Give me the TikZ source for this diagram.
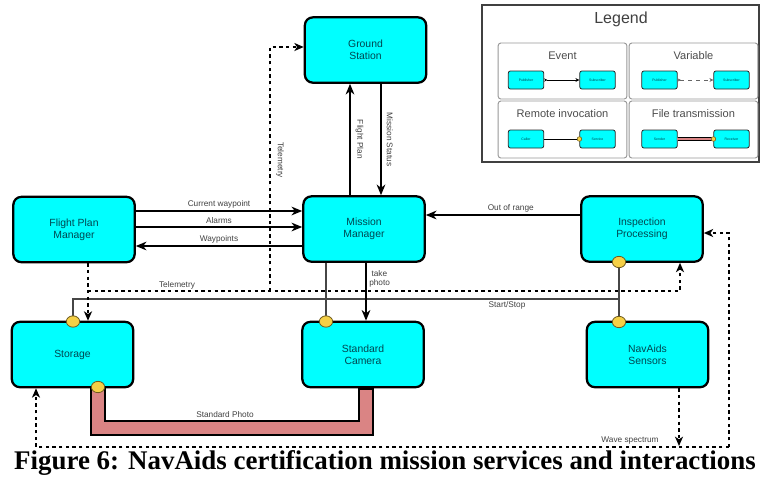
\documentclass[tikz,border=0pt]{standalone}
\usepackage{fontspec}
\setmainfont{Liberation Serif}
\setsansfont{Liberation Sans}
\usetikzlibrary{arrows.meta,backgrounds,shapes.geometric}

\definecolor{boxfill}{RGB}{0,255,255}
\definecolor{boxtext}{RGB}{0,70,80}
\definecolor{lolly}{RGB}{245,208,70}
\definecolor{lollyedge}{RGB}{110,90,30}
\definecolor{pipefill}{RGB}{218,132,132}
\definecolor{wirecol}{RGB}{70,70,70}
\definecolor{framecol}{RGB}{150,150,150}

\begin{document}
\begin{tikzpicture}[x=0.75pt,y=-0.75pt,
  svc/.style={draw=black, line width=1.7pt, fill=boxfill, rounded corners=6pt,
    minimum width=91pt, minimum height=49pt, align=center, inner sep=0pt,
    font=\sffamily\fontsize{7.8}{9.2}\selectfont, text=boxtext},
  conn/.style={line width=1.5pt, -{Stealth[length=8pt,width=6.5pt,inset=2.5pt]}},
  tele/.style={line width=1.5pt, dash pattern=on 2.5pt off 2.5pt},
  teletip/.style={tele, -{Stealth[length=7pt,width=6pt,inset=2pt]}},
  wire/.style={draw=wirecol, line width=1.4pt},
  lolli/.style={ellipse, draw=lollyedge, line width=0.6pt, fill=lolly,
    minimum width=10pt, minimum height=8.5pt, inner sep=0pt},
  lbl/.style={font=\sffamily\fontsize{6.2}{7}\selectfont, text=black!75, inner sep=1.5pt},
  lsvc/.style={draw=black!85, line width=0.6pt, fill=boxfill, rounded corners=1.5pt,
    minimum width=26.5pt, minimum height=13.5pt, inner sep=0pt,
    font=\sffamily\fontsize{2.6}{3}\selectfont, text=boxtext},
  lpanel/.style={draw=framecol, line width=0.7pt, rounded corners=2pt,
    minimum width=96.5pt, minimum height=42pt, inner sep=0pt},
  ltitle/.style={font=\sffamily\fontsize{8.3}{10}\selectfont, text=black!70},
  ldot/.style={circle, draw=lollyedge, line width=0.4pt, fill=lolly, minimum size=3.5pt, inner sep=0pt}
]
\useasboundingbox (0,0) rectangle (763,480);

% ---- services ----
\node[svc] (gs)   at (365.5,50)  {Ground\\Station};
\node[svc] (mm)   at (364,229)   {Mission\\Manager};
\node[svc] (fpm)  at (74,229.5)  {Flight Plan\\Manager};
\node[svc] (ip)   at (642,229)   {Inspection\\Processing};
\node[svc] (stor) at (72.5,354.5) {Storage};
\node[svc] (cam)  at (363,354.5) {Standard\\Camera};
\node[svc] (nav)  at (647.5,354.5) {NavAids\\Sensors};

% ---- file transmission pipe (behind the boxes) ----
\begin{scope}[on background layer]
  \draw[line width=12pt, line join=miter] (98,384) -- (98,428) -- (366,428) -- (cam.south -| 366,0);
  \draw[line width=9pt, pipefill, line join=miter] (98,384) -- (98,428) -- (366,428) -- ([yshift=-1pt]cam.south -| 366,0);
\end{scope}
\node[lbl] at (225,415) {Standard Photo};

% ---- events between Flight Plan Manager and Mission Manager ----
\draw[conn] (fpm.east |- 0,211) -- (mm.west |- 0,211) node[lbl, midway, above] {Current waypoint};
\draw[conn] (fpm.east |- 0,227) -- (mm.west |- 0,227) node[lbl, midway, above] {Alarms};
\draw[conn] (mm.west |- 0,246) -- (fpm.east |- 0,246) node[lbl, midway, above] {Waypoints};

% ---- Ground Station links ----
\draw[conn] (mm.north -| 350,0) -- (gs.south -| 350,0)
  node[lbl, midway, rotate=-90, anchor=south, yshift=2pt] {Flight Plan};
\draw[conn] (gs.south -| 381,0) -- (mm.north -| 381,0)
  node[lbl, midway, rotate=-90, anchor=south, yshift=2pt] {Mission Status};

% ---- Inspection Processing -> Mission Manager ----
\draw[conn] (ip.west |- 0,215) -- (mm.east |- 0,215) node[lbl, pos=0.45, above] {Out of range};

% ---- take photo ----
\draw[conn] (mm.south -| 366,0) -- (cam.north -| 366,0);
\node[lbl, align=left, anchor=north west] at (367,268) {\ take\\photo};

% ---- telemetry (variable) ----
\coordinate (tA) at (88,291);
\coordinate (tB) at (680,291);
\coordinate (tC) at (270,291);
\coordinate (tD) at (270,47);
\draw[teletip] (fpm.south -| 88,0) -- (stor.north -| 88,0);
\draw[teletip] (tA) -- (tB) -- (ip.south -| 680,0);
\draw[teletip] (tC) -- (tD) -- (gs.west |- tD);
\node[lbl] at (177,285) {Telemetry};
\node[lbl, rotate=-90] at (280,160) {Telemetry};

% ---- Start/Stop (remote invocation) ----
\node[lolli] (ipl)   at (619,262) {};
\node[lolli] (navl)  at (619,322) {};
\node[lolli] (storl) at (73,321.5) {};
\node[lolli] (caml)  at (326,321.5) {};
\node[lolli] (storb) at (98,387) {};
\begin{scope}[on background layer]
  \draw[wire] (ipl.center) -- (navl.center);
  \draw[wire] (619,299) -- (73,299) -- (storl.center);
  \draw[wire] (mm.south -| 326,0) -- (caml.center);
\end{scope}
\node[lbl] at (507,305) {Start/Stop};

% ---- wave spectrum ----
\coordinate (wL) at (36,447);
\coordinate (wR) at (729,447);
\coordinate (wT) at (729,233);
\draw[teletip] (nav.south -| 679,0) -- (679,446);
\draw[teletip] (wR) -- (wL) -- (stor.south -| wL);
\draw[teletip] (wR) -- (wT) -- (ip.east |- wT);
\node[lbl] at (630,441) {Wave spectrum};

% ---- legend ----
\node[draw=black!75, line width=1pt, minimum width=207.75pt, minimum height=117.75pt, inner sep=0pt]
  (legend) at (620.5,83.5) {};
\node[font=\sffamily\fontsize{12}{14}\selectfont, text=black!75] at (621,19) {Legend};

\node[lpanel] (pEv) at (562.5,71) {};
\node[lpanel] (pVa) at (693.5,71) {};
\node[lpanel, minimum height=42.75pt] (pRi) at (562.5,129.5) {};
\node[lpanel, minimum height=42.75pt] (pFt) at (693.5,129.5) {};
\node[ltitle] at (562.5,56) {Event};
\node[ltitle] at (693.5,56) {Variable};
\node[ltitle] at (562.5,114) {Remote invocation};
\node[ltitle] at (693.5,114) {File transmission};

\node[lsvc] (evP) at (526,80) {Publisher};
\node[lsvc] (evS) at (597.5,80) {Subscriber};
\node[lsvc] (vaP) at (659.5,80) {Publisher};
\node[lsvc] (vaS) at (731.5,80) {Subscriber};
\node[lsvc] (riC) at (526,139) {Caller};
\node[lsvc] (riS) at (597.5,139) {Service};
\node[lsvc] (ftS) at (659.5,139) {Sender};
\node[lsvc] (ftR) at (731.5,139) {Receiver};

\draw[line width=0.5pt, {Stealth[reversed,length=2.5pt,width=2.5pt]}-{Stealth[length=3pt,width=3pt]}] (evP) -- (evS);
\draw[line width=0.5pt, draw=black!60, dash pattern=on 3pt off 3pt,
  {Stealth[reversed,length=2.5pt,width=2.5pt]}-{Stealth[length=3pt,width=3pt]}] (vaP) -- (vaS);
\draw[line width=0.6pt] (riC) -- (riS);
\node[ldot] at (riS.west) {};
\draw[line width=3.4pt] (ftS.east) -- (ftR.west);
\draw[line width=2.2pt, pipefill] ([xshift=-0.5pt]ftS.east) -- ([xshift=0.5pt]ftR.west);
\node[ldot] at (ftR.west) {};

% ---- caption ----
\node[font=\bfseries\fontsize{20.2}{24}\selectfont, anchor=base, inner sep=0pt] at (385,469)
  {Figure 6: NavAids certification mission services and interactions};
\end{tikzpicture}
\end{document}
